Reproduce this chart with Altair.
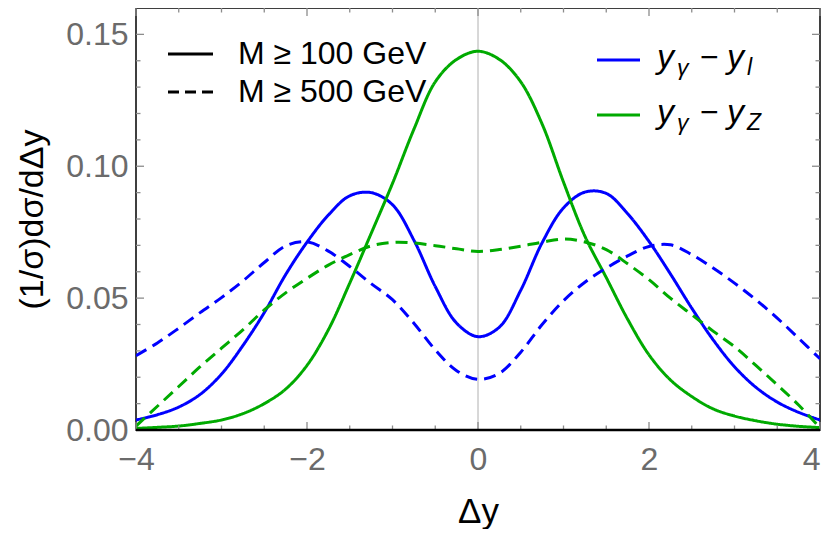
import altair as alt
import pandas as pd

# ---------------- data ----------------
dy = [-4, -3.75, -3.5, -3.25, -3, -2.75, -2.5, -2.25, -2, -1.75, -1.5, -1.25, -1,
      -0.75, -0.5, -0.25, 0, 0.25, 0.5, 0.75, 1, 1.25, 1.5, 1.75, 2, 2.25, 2.5,
      2.75, 3, 3.25, 3.5, 3.75, 4]

# y_gamma - y_l , M >= 100 GeV (solid blue)
yl_100 = [0.0038, 0.0058, 0.0087, 0.0135, 0.0212, 0.032, 0.0445, 0.0589, 0.0712,
          0.0815, 0.0888, 0.0900, 0.0854, 0.072, 0.0544, 0.0405, 0.0354, 0.039,
          0.053, 0.071, 0.0842, 0.0902, 0.0897, 0.082, 0.0715, 0.0592, 0.0462,
          0.0342, 0.0240, 0.0162, 0.0106, 0.0067, 0.0038]

# y_gamma - y_Z , M >= 100 GeV (solid green)
yz_100 = [0.0006, 0.001, 0.0015, 0.0025, 0.0038, 0.0062, 0.010, 0.0155, 0.0245,
          0.038, 0.0557, 0.0745, 0.0935, 0.114, 0.132, 0.1405, 0.1436, 0.1405,
          0.132, 0.116, 0.094, 0.0735, 0.0578, 0.042, 0.0285, 0.019, 0.0127,
          0.008, 0.0053, 0.0035, 0.0022, 0.0014, 0.0009]

# y_gamma - y_l , M >= 500 GeV (dashed blue)
yl_500 = [0.0282, 0.033, 0.0386, 0.0445, 0.0502, 0.0565, 0.0635, 0.0698, 0.0713,
          0.0678, 0.062, 0.0555, 0.0494, 0.0405, 0.0304, 0.0225, 0.0192, 0.0215,
          0.0295, 0.040, 0.049, 0.056, 0.0614, 0.066, 0.0696, 0.0702, 0.0665,
          0.0614, 0.0557, 0.0494, 0.0424, 0.0348, 0.027]

# y_gamma - y_Z , M >= 500 GeV (dashed green)
yz_500 = [0.0015, 0.009, 0.0165, 0.024, 0.031, 0.038, 0.0455, 0.052, 0.0575,
          0.0625, 0.0665, 0.0698, 0.0711, 0.0709, 0.0699, 0.0687, 0.0677, 0.0684,
          0.0697, 0.0712, 0.0724, 0.0713, 0.0684, 0.063, 0.057, 0.050, 0.0437,
          0.0375, 0.0316, 0.0245, 0.0171, 0.0095, 0.0008]

x_major = [-4, -2, 0, 2, 4]
x_minor = [-3.5, -3, -2.5, -1.5, -1, -0.5, 0.5, 1, 1.5, 2.5, 3, 3.5]
y_major = [0.0, 0.05, 0.10, 0.15]
y_minor = [0.01, 0.02, 0.03, 0.04, 0.06, 0.07, 0.08, 0.09, 0.11, 0.12, 0.13, 0.14]

# ---------------- build tables ----------------
rows = []
for series, cut, vals in [("l", "100", yl_100), ("Z", "100", yz_100),
                          ("l", "500", yl_500), ("Z", "500", yz_500)]:
    for xv, yv in zip(dy, vals):
        rows.append({"x": xv, "y": yv, "series": series, "cut": cut,
                     "key": series + cut})
df = pd.DataFrame(rows)

W, H = 684, 422
FONT = "Liberation Sans"
TICK = "#8c8c8c"

xs = alt.Scale(domain=[-4, 4], nice=False, zero=False)
ys = alt.Scale(domain=[0, 0.16], nice=False, zero=False)

XA = alt.Axis(values=x_major, format="d", labelFontSize=32, labelFont=FONT,
              labelColor="#6b6b6b", ticks=False, tickSize=0, domain=False,
              grid=False, labelFlush=False, labelOverlap=False,
              labelBaseline="alphabetic", labelPadding=39,
              labelAlign={"condition": {"test": "datum.value == 4", "value": "right"},
                          "value": "center"},
              title="Δy", titleFont=FONT, titleFontSize=35,
              titleFontWeight="normal", titleColor="black",
              titleX=W / 2, titleY=92, titleBaseline="alphabetic",
              titleAlign="center")
YA = alt.Axis(values=y_major, format=".2f", labelFontSize=32, labelFont=FONT,
              labelColor="#6b6b6b", ticks=False, tickSize=0, domain=False,
              grid=False, labelFlush=False, labelOverlap=False,
              labelPadding=8,
              title="(1/σ)dσ/dΔy", titleFont=FONT, titleFontSize=34,
              titleFontWeight="normal", titleColor="black",
              titleX=-104, titleY=H / 2, titleAngle=270,
              titleAlign="center", titleBaseline="middle")


def X(field):
    return alt.X(field, scale=xs, axis=XA)


def Y(field):
    return alt.Y(field, scale=ys, axis=YA)


curves = alt.Chart(df).mark_line(strokeWidth=3, interpolate="catmull-rom", clip=True).encode(
    x=X("x:Q"),
    y=Y("y:Q"),
    color=alt.Color("series:N", scale=alt.Scale(domain=["l", "Z"],
                                                range=["#0000ff", "#00aa00"]), legend=None),
    strokeDash=alt.StrokeDash("cut:N", scale=alt.Scale(domain=["100", "500"],
                                                       range=[[1, 0], [12, 7]]), legend=None),
    detail="key:N",
)

zero_line = alt.Chart(pd.DataFrame({"x": [0]})).mark_rule(color="#b0b0b0", strokeWidth=1).encode(
    x=X("x:Q"))


def xticks(vals, length):
    d = pd.DataFrame({"x": vals})
    b = alt.Chart(d).mark_rule(color=TICK, strokeWidth=1.3).encode(
        x=X("x:Q"), y=alt.value(H), y2=alt.value(H - length))
    t = alt.Chart(d).mark_rule(color=TICK, strokeWidth=1.3).encode(
        x=X("x:Q"), y=alt.value(0), y2=alt.value(length))
    return [b, t]


def yticks(vals, length):
    d = pd.DataFrame({"y": vals})
    l = alt.Chart(d).mark_rule(color=TICK, strokeWidth=1.3).encode(
        y=Y("y:Q"), x=alt.value(0), x2=alt.value(length))
    r = alt.Chart(d).mark_rule(color=TICK, strokeWidth=1.3).encode(
        y=Y("y:Q"), x=alt.value(W), x2=alt.value(W - length))
    return [l, r]


ticks = xticks(x_major, 8) + xticks(x_minor, 4.5) + yticks(y_major, 8) + yticks(y_minor, 4.5)

base_line = alt.Chart(pd.DataFrame({"y": [0]})).mark_rule(color="black", strokeWidth=2.5).encode(
    y=Y("y:Q"))

one = pd.DataFrame({"a": [0]})


def seg(x1, x2, y, color, dash=None):
    kw = dict(color=color, strokeWidth=3)
    if dash:
        kw["strokeDash"] = dash
    return alt.Chart(one).mark_rule(**kw).encode(
        x=alt.value(x1), x2=alt.value(x2), y=alt.value(y))


def txt(s, x, y, size, italic=False, baseline="alphabetic"):
    return alt.Chart(one).mark_text(text=s, fontSize=size, font=FONT,
                                    fontStyle="italic" if italic else "normal",
                                    align="left", baseline=baseline, color="black").encode(
        x=alt.value(x), y=alt.value(y))


legend = [
    seg(32, 77, 46, "black"),
    seg(32, 77, 84, "black", [11, 6]),
    txt("M ≥ 100 GeV", 102, 46, 32, baseline="middle"),
    txt("M ≥ 500 GeV", 102, 84, 32, baseline="middle"),
    seg(461, 504, 52, "#0000ff"),
    seg(461, 504, 107, "#00aa00"),
]
for yb, sub in [(60, "l"), (115, "Z")]:
    legend += [
        txt("y", 521, yb, 34, italic=True),
        txt("γ", 541, yb + 7, 23, italic=True),
        txt("−", 564, yb, 32),
        txt("y", 591, yb, 34, italic=True),
        txt(sub, 611, yb + 7, 23, italic=True),
    ]

chart = alt.layer(zero_line, curves, *ticks, base_line, *legend).properties(
    width=W, height=H,
    autosize=alt.AutoSizeParams(type="none"),
    padding={"left": 128, "top": 0, "right": 2, "bottom": 99},
).configure_view(stroke="black", strokeWidth=1.5)

chart.save("out.html", embed_options={"renderer": "svg", "actions": False})
